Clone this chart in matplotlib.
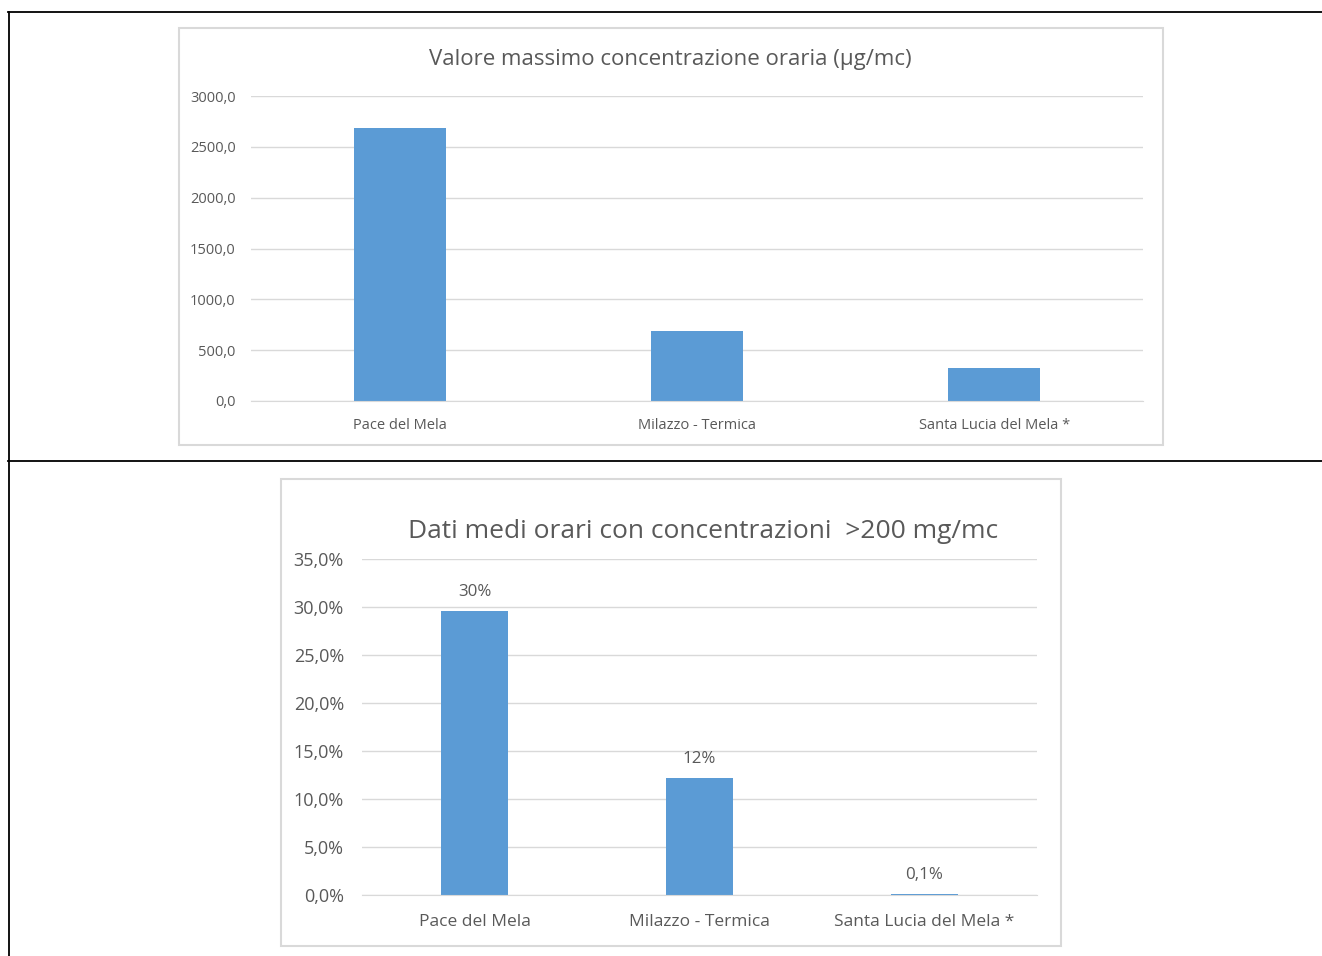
import matplotlib.pyplot as plt
from matplotlib.patches import Rectangle
from matplotlib.lines import Line2D

plt.rcParams['font.family'] = ['Open Sans', 'DejaVu Sans']

# data
stations = ['Pace del Mela', 'Milazzo - Termica', 'Santa Lucia del Mela *']
max_hourly = [2685.0, 690.0, 325.0]
top_ticks = [0, 500, 1000, 1500, 2000, 2500, 3000]

pct_over = [29.6, 12.2, 0.1]
pct_labels = ['30%', '12%', '0,1%']
bottom_ticks = [0, 5, 10, 15, 20, 25, 30, 35]

W, H = 1322, 956
BAR = '#5B9BD5'
GRID = '#D9D9D9'
TXT = '#595959'

fig = plt.figure(figsize=(W / 100, H / 100), dpi=100)


def px_axes(x0, y0, x1, y1):
    # pixel box (top-left origin) -> figure fraction
    return fig.add_axes([x0 / W, 1 - y1 / H, (x1 - x0) / W, (y1 - y0) / H])


def px_line(xs, ys, **kw):
    fig.add_artist(Line2D([x / W for x in xs], [1 - y / H for y in ys],
                          transform=fig.transFigure, **kw))


def px_box(x0, y0, x1, y1):
    fig.add_artist(Rectangle((x0 / W, 1 - y1 / H), (x1 - x0) / W, (y1 - y0) / H,
                             transform=fig.transFigure, fill=False,
                             edgecolor=GRID, linewidth=1.5))


# table frame lines
px_line([8, W], [11.5, 11.5], color='black', linewidth=1.3)
px_line([8.5, 8.5], [11.5, H], color='black', linewidth=1.3)
px_line([8, W], [461, 461], color='black', linewidth=1.3)

# chart boxes
px_box(179, 28, 1163, 445)
px_box(281, 479, 1061, 946)


def style_ax(ax, ticks, ymax, fmt, tick_size, cat_size, ypad, xpad):
    ax.set_ylim(0, ymax)
    ax.set_xlim(-0.5, len(stations) - 0.5)
    ax.set_yticks(ticks)
    ax.set_yticklabels([fmt(t) for t in ticks], fontsize=tick_size, color=TXT)
    ax.set_xticks(range(len(stations)))
    ax.set_xticklabels(stations, fontsize=cat_size, color=TXT)
    ax.tick_params(length=0)
    ax.tick_params(axis='y', pad=ypad)
    ax.tick_params(axis='x', pad=xpad)
    ax.grid(axis='y', color=GRID, linewidth=1)
    ax.set_axisbelow(True)
    for s in ['top', 'right', 'left']:
        ax.spines[s].set_visible(False)
    ax.spines['bottom'].set_color(GRID)
    ax.patch.set_alpha(0)


# top chart
ax1 = px_axes(251, 96, 1143, 401)
ax1.bar(range(len(stations)), max_hourly, width=0.31, color=BAR)
style_ax(ax1, top_ticks, 3000, lambda v: f'{v:.1f}'.replace('.', ','), 10.5, 10.5, 11, 12)
fig.text(670 / W, 1 - 60 / H, 'Valore massimo concentrazione oraria (\u00b5g/mc)',
         ha='center', va='center', fontsize=16, color=TXT)

# bottom chart
ax2 = px_axes(362, 559, 1037, 895)
bars = ax2.bar(range(len(stations)), pct_over, width=0.30, color=BAR)
style_ax(ax2, bottom_ticks, 35, lambda v: f'{v:.1f}%'.replace('.', ','), 13, 12.5, 13, 14)
for b, lab in zip(bars, pct_labels):
    ax2.annotate(lab, (b.get_x() + b.get_width() / 2, b.get_height()),
                 xytext=(0, 8), textcoords='offset points',
                 ha='center', va='bottom', fontsize=12.2, color=TXT)
fig.text(703 / W, 1 - 532 / H, 'Dati medi orari con concentrazioni  >200 mg/mc',
         ha='center', va='center', fontsize=19, color=TXT)

fig.savefig('out.png', dpi=100)
